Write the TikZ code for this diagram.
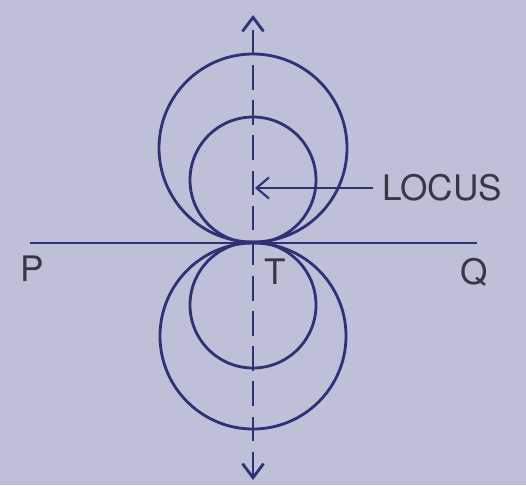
\documentclass[tikz,border=0pt]{standalone}
\usepackage{fontspec}
\setmainfont{TeX Gyre Heros}
\usepackage{tikz}
\usetikzlibrary{positioning,arrows.meta}
\definecolor{papercol}{RGB}{190,192,216}
\definecolor{inkcol}{RGB}{48,48,118}
\definecolor{textcol}{RGB}{55,55,70}

\begin{document}
\begin{tikzpicture}[
  x=0.02cm, y=0.02cm,
  ink/.style={draw=inkcol, line width=1.6pt},
  axis/.style={ink, dashed, dash pattern=on 14pt off 6pt,
               {Straight Barb[length=8pt,width=12pt]}-{Straight Barb[length=8pt,width=12pt]}},
  lbl/.style={font=\fontsize{20}{22}\selectfont, text=textcol, inner sep=0pt},
]
\fill[papercol] (0,0) rectangle (526,485);
\useasboundingbox (0,0) rectangle (526,485);

% tangent point and centres
\coordinate (T)   at (253,242);
\coordinate (bigU) at (253,337);
\coordinate (bigL) at (253,149);
\coordinate (smU) at (253,305);
\coordinate (smL) at (253,180);
\coordinate (ax1) at (253,5);
\coordinate (ax2) at (253,470);
\coordinate (pL)  at (30,242);
\coordinate (pR)  at (477,242);

\draw[ink] (bigU) circle (94);
\draw[ink] (bigL) circle (93);
\draw[ink] (smU) circle (63);
\draw[ink] (smL) circle (63);

\draw[ink] (pL) -- (pR);
\draw[axis] (ax1) -- (ax2);

\node[lbl, anchor=west] (locus) at (382,297) {LOCUS};
\coordinate (tip) at (255,297);
\draw[ink, line width=1.2pt, -{Straight Barb[length=7pt,width=12pt]}]
  (locus.west) ++(-9,0) -- (tip);

\node[lbl] (P) at (32,216) {P};
\node[lbl] (Q) at (474,213) {Q};
\node[lbl] (Tl) at (275,213) {T};
\end{tikzpicture}
\end{document}
